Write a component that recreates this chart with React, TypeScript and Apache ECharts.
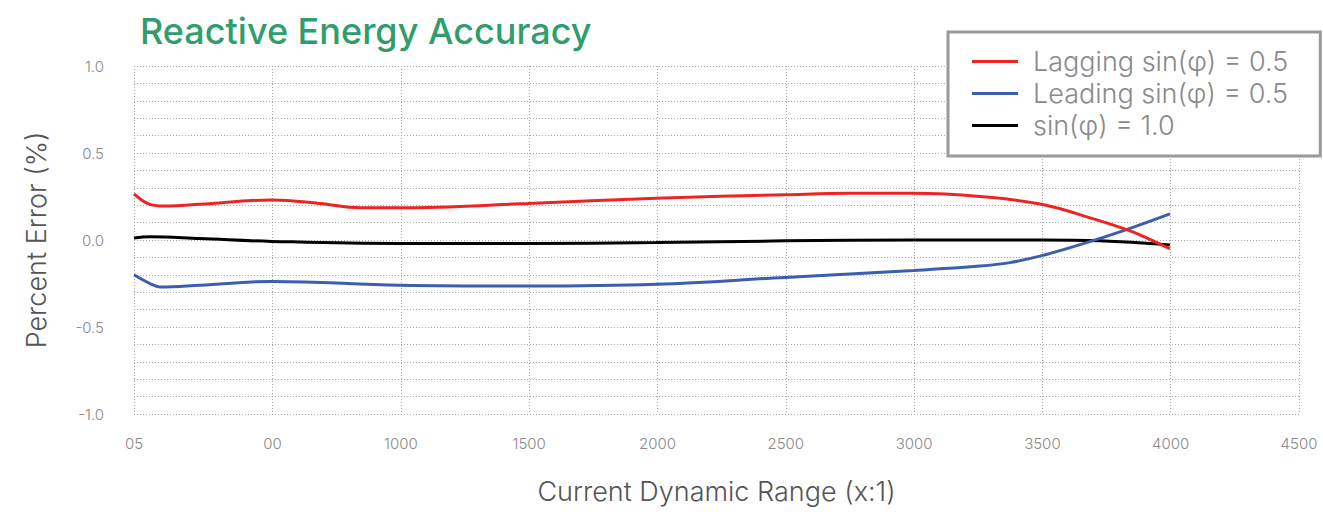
import React, { useEffect, useRef } from "react";
import * as echarts from "echarts";

const xTickValues = [-40, 500, 1000, 1500, 2000, 2500, 3000, 3500, 4000, 4500];
const xTickLabels = ["05", "00", "1000", "1500", "2000", "2500", "3000", "3500", "4000", "4500"];

const laggingX = [-40, 22, 80, 217, 497, 684, 840, 996, 1495, 1994, 2497, 2750, 2999, 3256, 3497, 3724, 3828, 3880, 3997];
const laggingY = [0.265, 0.205, 0.195, 0.205, 0.23, 0.21, 0.185, 0.185, 0.21, 0.24, 0.26, 0.268, 0.268, 0.25, 0.205, 0.11, 0.06, 0.03, -0.05];

const leadingX = [-40, 22, 61, 217, 497, 996, 1495, 1994, 2497, 2999, 3256, 3373, 3497, 3672, 3828, 3997];
const leadingY = [-0.2, -0.25, -0.27, -0.26, -0.238, -0.26, -0.265, -0.255, -0.215, -0.175, -0.15, -0.13, -0.09, -0.015, 0.06, 0.15];

const unityX = [-40, 22, 217, 497, 996, 1495, 1994, 2497, 2999, 3497, 3724, 3997];
const unityY = [0.012, 0.018, 0.008, -0.008, -0.02, -0.02, -0.015, -0.005, 0.0, 0.0, -0.005, -0.028];

const seriesNames = ["Lagging sin(φ) = 0.5", "Leading sin(φ) = 0.5", "sin(φ) = 1.0"];
const seriesColors = ["#ee2424", "#3b5fae", "#000000"];

const zip = (xs: number[], ys: number[]) => xs.map((x, i) => [x, ys[i]]);

export default function App() {
  const ref = useRef<HTMLDivElement>(null);
  useEffect(() => {
    document.body.style.margin = "0";
    const chart = echarts.init(ref.current!, null, { renderer: "svg" });
    const font = "Inter, 'Noto Sans', sans-serif";
    const datasets = [zip(laggingX, laggingY), zip(leadingX, leadingY), zip(unityX, unityY)];
    chart.setOption({
      animation: false,
      backgroundColor: "#ffffff",
      title: {
        text: "Reactive Energy Accuracy",
        left: 135,
        top: 8,
        textStyle: { color: "#2f9e6c", fontSize: 36, fontWeight: 500, fontFamily: font },
      },
      legend: {
        orient: "vertical",
        left: 948,
        top: 32,
        data: seriesNames,
        icon: "rect",
        itemWidth: 46,
        itemHeight: 3,
        itemGap: 5,
        padding: [16, 32, 17, 24],
        borderColor: "#9a9a9a",
        borderWidth: 3,
        backgroundColor: "#ffffff",
        textStyle: {
          color: "#8a8a8a",
          fontSize: 27,
          fontFamily: font,
          fontWeight: 300,
          padding: [0, 0, 0, 10],
        },
      },
      grid: { left: 134, right: 24, top: 66, bottom: 98 },
      xAxis: {
        type: "value",
        min: -40,
        max: 4500,
        name: "Current Dynamic Range (x:1)",
        nameLocation: "middle",
        nameGap: 64,
        nameTextStyle: { color: "#555555", fontSize: 27, fontFamily: font, fontWeight: 300 },
        axisLine: { show: false },
        axisTick: { show: false, customValues: xTickValues },
        axisLabel: {
          customValues: xTickValues,
          color: "#8a8a8a",
          fontSize: 15,
          fontFamily: font,
          fontWeight: 300,
          margin: 22,
          formatter: (v: number) => {
            const i = xTickValues.indexOf(v);
            return i >= 0 ? xTickLabels[i] : "";
          },
        },
        splitLine: { show: true, lineStyle: { color: "#aaaaaa", type: [1, 2], width: 1 } },
      },
      yAxis: {
        type: "value",
        min: -1,
        max: 1,
        interval: 0.1,
        name: "Percent Error (%)",
        nameLocation: "middle",
        nameGap: 84,
        nameTextStyle: { color: "#555555", fontSize: 27, fontFamily: font, fontWeight: 300 },
        axisLine: { show: false },
        axisTick: { show: false },
        axisLabel: {
          color: "#8a8a8a",
          fontSize: 15,
          fontFamily: font,
          fontWeight: 300,
          margin: 30,
          formatter: (v: number) => {
            const r = Math.round(v * 10);
            if (r % 5 !== 0) return "";
            return (r / 10).toFixed(1);
          },
        },
        splitLine: { show: true, lineStyle: { color: "#aaaaaa", type: [1, 2], width: 1 } },
      },
      series: seriesNames.map((name, i) => ({
        name,
        type: "line",
        data: datasets[i],
        smooth: 0.4,
        showSymbol: false,
        symbol: "none",
        color: seriesColors[i],
        lineStyle: { width: 3, color: seriesColors[i] },
        z: 3 - i,
      })),
    });
    return () => chart.dispose();
  }, []);
  return <div ref={ref} style={{ width: 1323, height: 512 }} />;
}
